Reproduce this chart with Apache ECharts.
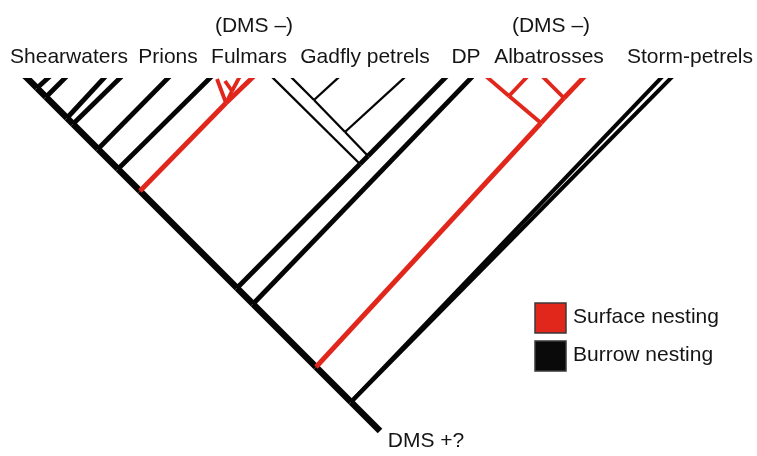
<!DOCTYPE html>
<html><head><meta charset="utf-8">
<script src="https://cdn.jsdelivr.net/npm/echarts@6/dist/echarts.min.js"></script>
<style>html,body{margin:0;padding:0;background:#fff}#c{width:757px;height:456px}</style>
</head><body><div id="c"></div><script>
// ---- DATA ----
const tipLabels = ['Shearwaters', 'Prions', 'Fulmars', 'Gadfly petrels', 'DP', 'Albatrosses', 'Storm-petrels'];
const dmsNotes = ['(DMS \u2013)', '(DMS \u2013)'];
const rootNote = 'DMS +?';
const legendNames = ['Surface nesting', 'Burrow nesting'];
const legendStates = ['surface', 'burrow'];

// Tree nodes: horizontal position and depth (tips at the top)
const nodeId    = ['root','s','a','d2','d1','f','p5','p4','p3','p2','p1','p0','top',
                   'tp0','tp1','tp2','tp3','tp4','tp5',
                   'tf','nf','tf1','ng','tf2','tf3',
                   'td1','g1','g2','g3','g4','tg1','tg2','tg3','tg4',
                   'td2',
                   'ta','aj','la','ra','ta1','ta2','ta3',
                   'ts1','ts2'];
const nodeX     = [380,351,316,253,237,140,118,98,73,67,46,37,27,
                   48,65,104,120,168,210,
                   252,226,217,232,239,225,
                   445,360,368,345,314,273,292,404,338,
                   471,
                   583,541,509,564,488,526,544,
                   661,671];
const nodeDepth = [431,402,367,304,288,191,169,149,124,118,97,88,78,
                   78,78,78,78,78,78,
                   78,103,79,91,78,81,
                   78,164,156,132,100,78,78,78,78,
                   78,
                   78,123,96,98,78,78,78,
                   78,78];

// Branches: parent node, child node, nesting state, branch rank
const branchFrom  = ['root','s','a','d2','d1','f','p5','p4','p3','p2','p1','p0',
                     's','s',
                     'a','aj','ra','aj','la','la','ra',
                     'd2',
                     'd1','g1','g2','g1','g2','g3','g4','g3','g4',
                     'f','nf','nf','nf','ng','ng',
                     'p5','p4','p3','p2','p1','p0'];
const branchTo    = ['s','a','d2','d1','f','p5','p4','p3','p2','p1','p0','top',
                     'ts1','ts2',
                     'aj','ra','ta','la','ta1','ta2','ta3',
                     'td2',
                     'g1','g2','td1','tg1','g3','g4','tg2','tg3','tg4',
                     'nf','tf','tf1','ng','tf2','tf3',
                     'tp5','tp4','tp3','tp2','tp1','tp0'];
const branchState = ['burrow','burrow','burrow','burrow','burrow','burrow','burrow','burrow','burrow','burrow','burrow','burrow',
                     'burrow','burrow',
                     'surface','surface','surface','surface','surface','surface','surface',
                     'burrow',
                     'burrow','burrow','burrow','unknown','unknown','unknown','unknown','unknown','unknown',
                     'surface','surface','surface','surface','surface','surface',
                     'burrow','burrow','burrow','burrow','burrow','burrow'];
const branchRank  = ['trunk','trunk','trunk','trunk','trunk','trunk','trunk','trunk','trunk','trunk','trunk','trunk',
                     'pair','pair',
                     'major','major','major','minor','minor','minor','minor',
                     'major',
                     'major','major','major','thin','thin','thin','thin','thin','thin',
                     'major','major','minor','minor','minor','minor',
                     'major','major','major','major','major','major'];

// ---- STYLE ----
const stateColor = { burrow: '#050505', surface: '#e1261c', unknown: '#050505' };
const legendFill = { burrow: '#0a0a0a', surface: '#e1261c' };
const rankWidth = { trunk: 6.5, major: 4.8, minor: 3.8, pair: 4, thin: 2.3 };
const font = '"Liberation Sans", Arial, Helvetica, sans-serif';
const textColor = '#151515';

const idx = {};
nodeId.forEach((n, i) => { idx[n] = i; });
const tipLevel = Math.min.apply(null, nodeDepth);
const branchData = branchFrom.map((p, i) => {
  const a = idx[p], b = idx[branchTo[i]];
  return [nodeX[a], nodeDepth[a], nodeX[b], nodeDepth[b], i];
});

const labelCenters = [69, 168, 249, 365, 466, 549, 690];
const noteCenters = [254, 551];

const chart = echarts.init(document.getElementById('c'), null, { renderer: 'canvas' });
chart.setOption({
  animation: false,
  backgroundColor: '#fff',
  grid: { left: 0, right: 0, top: 0, bottom: 0 },
  xAxis: { type: 'value', min: 0, max: 757, show: false },
  yAxis: { type: 'value', min: 0, max: 456, inverse: true, show: false },
  series: [{
    type: 'custom',
    coordinateSystem: 'cartesian2d',
    encode: { x: [0, 2], y: [1, 3] },
    data: branchData,
    renderItem: function (params, api) {
      const i = api.value(4);
      const w = rankWidth[branchRank[i]];
      const p1 = api.coord([api.value(0), api.value(1)]);
      let p2 = api.coord([api.value(2), api.value(3)]);
      const cutY = api.coord([0, tipLevel])[1];
      const atTip = api.value(3) <= tipLevel;
      if (atTip) {
        // extend past the tip, then cut flat at the tip level
        const dx = p2[0] - p1[0], dy = p2[1] - p1[1];
        const L = Math.sqrt(dx * dx + dy * dy);
        p2 = [p2[0] + dx / L * w * 1.5, p2[1] + dy / L * w * 1.5];
      }
      const el = {
        type: 'line',
        shape: { x1: p1[0], y1: p1[1], x2: p2[0], y2: p2[1] },
        style: { stroke: stateColor[branchState[i]], lineWidth: w, lineCap: 'butt' }
      };
      if (atTip) {
        el.clipPath = { type: 'rect', shape: { x: -1000, y: cutY, width: 3000, height: 3000 } };
      }
      return el;
    }
  }],
  graphic: [].concat(
    tipLabels.map((t, i) => ({
      type: 'text', x: labelCenters[i], y: 57,
      style: { text: t, font: '21px ' + font, fill: textColor, align: 'center', verticalAlign: 'middle' }
    })),
    dmsNotes.map((t, i) => ({
      type: 'text', x: noteCenters[i], y: 26,
      style: { text: t, font: '21px ' + font, fill: textColor, align: 'center', verticalAlign: 'middle' }
    })),
    [{
      type: 'text', x: 426, y: 441,
      style: { text: rootNote, font: '21px ' + font, fill: textColor, align: 'center', verticalAlign: 'middle' }
    }],
    legendStates.map((s, i) => ({
      type: 'rect', shape: { x: 535, y: 303 + i * 38, width: 31, height: 30 },
      style: { fill: legendFill[s], stroke: '#3a3a3a', lineWidth: 1.5 }
    })),
    legendNames.map((t, i) => ({
      type: 'text', x: 573, y: 317 + i * 38,
      style: { text: t, font: '21px ' + font, fill: textColor, align: 'left', verticalAlign: 'middle' }
    }))
  )
});
</script></body></html>
